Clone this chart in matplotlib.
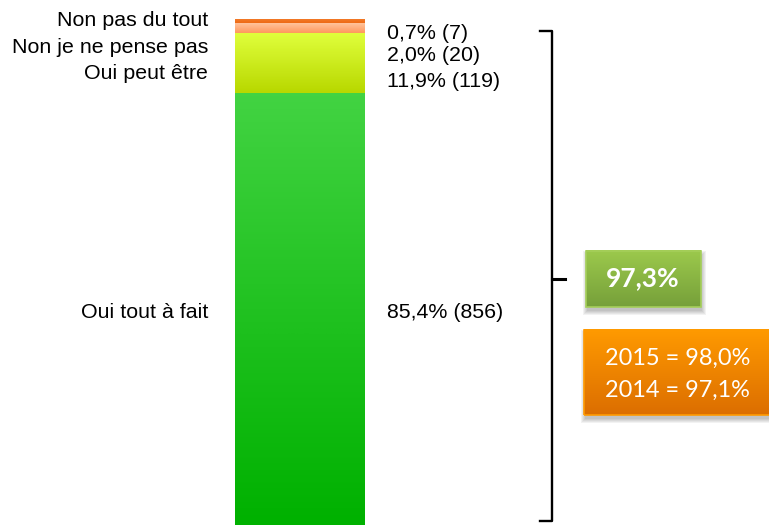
import matplotlib.pyplot as plt
import matplotlib.patches as mpatches
import matplotlib.colors as mcolors
import numpy as np

# données (du bas vers le haut de la barre)
categories = ["Oui tout à fait", "Oui peut être", "Non je ne pense pas", "Non pas du tout"]
percents = [85.4, 11.9, 2.0, 0.7]
counts = [856, 119, 20, 7]
total_oui = "97,3%"
history = ["2015 = 98,0%", "2014 = 97,1%"]

# dégradés (haut, bas) pour chaque segment
grad_colors = [
    ("#42d342", "#00b100"),
    ("#e0ff3c", "#b8d800"),
    ("#ffc8a2", "#ff985c"),
    ("#f27a28", "#ee6a14"),
]
# positions des étiquettes (décalées comme dans l'original)
label_y_left = [41.9, 89.3, 94.3, 99.6]
label_y_right = [41.9, 87.7, 92.7, 97.2]

plt.rcParams['font.family'] = ['Liberation Sans', 'DejaVu Sans']

fig = plt.figure(figsize=(7.69, 5.26), dpi=100)
ax = fig.add_axes([0, 0, 1, 1])
ax.axis("off")

px = 1 / 129.0   # un pixel en x
py = 1 / 5.06    # un pixel en y

bottoms = np.concatenate([[0], np.cumsum(percents)[:-1]])
bars = ax.bar(0, percents, bottom=bottoms, width=1.0, color="none", edgecolor="none")

# remplissage en dégradé de chaque segment
for patch, (top_c, bot_c) in zip(bars.patches, grad_colors):
    x0, y0 = patch.get_x(), patch.get_y()
    w, h = patch.get_width(), patch.get_height()
    cmap = mcolors.LinearSegmentedColormap.from_list("g", [bot_c, top_c])
    grad = np.linspace(0, 1, 64).reshape(-1, 1)
    im = ax.imshow(grad, cmap=cmap, extent=(x0, x0 + w, y0, y0 + h),
                   origin="lower", aspect="auto", interpolation="bicubic", zorder=2)
    im.set_clip_path(patch)

# étiquettes
for cat, pct, n, yl, yr in zip(categories, percents, counts, label_y_left, label_y_right):
    ax.text(-0.709, yl, cat, ha="right", va="center", fontsize=15.4, color="black")
    txt = f"{pct:.1f}".replace(".", ",") + f"% ({n})"
    ax.text(0.678, yr, txt, ha="left", va="center", fontsize=15.4, color="black")

# accolade sur les "Oui"
oui_top = percents[0] + percents[1]
bx, hook, tip = 1.957, 1.864, 2.058
top_y, bot_y = oui_top + 0.3, 0.8
mid_y = oui_top / 2
ax.plot([hook, bx, bx, hook], [top_y, top_y, bot_y, bot_y],
        color="black", lw=1.7, solid_joinstyle="round", zorder=3)
ax.plot([bx, tip], [mid_y, mid_y], color="black", lw=2.2, zorder=3)


def box(x0, y0, x1, y1, c_top, c_bot, edge):
    # ombre douce
    for k in range(5):
        ax.add_patch(mpatches.Rectangle((x0 + (1 - k) * px, y0 - (4 + k) * py),
                                        x1 - x0 + 2 * k * px, y1 - y0 + 2 * k * py,
                                        facecolor="#000000", alpha=0.05, edgecolor="none",
                                        zorder=3, clip_on=False))
    r = mpatches.Rectangle((x0, y0), x1 - x0, y1 - y0, facecolor="none",
                           edgecolor=edge, lw=1.2, zorder=5, clip_on=False)
    ax.add_patch(r)
    cmap = mcolors.LinearSegmentedColormap.from_list("b", [c_bot, c_top])
    grad = np.linspace(0, 1, 64).reshape(-1, 1)
    ax.imshow(grad, cmap=cmap, extent=(x0, x1, y0, y1), origin="lower",
              aspect="auto", interpolation="bicubic", zorder=4)


box(2.221, 43.08, 3.112, 54.15, "#9cc94c", "#76a03a", "#a5cf5a")
ax.text(2.663, 48.7, total_oui, ha="center", va="center", fontsize=19,
        fontweight="bold", color="white", family=["Lato", "DejaVu Sans"], zorder=6)

box(2.205, 21.7, 3.70, 38.5, "#ff9a00", "#dc6e00", "#ff9a00")
ax.text(2.368, 33.0, history[0], ha="left", va="center", fontsize=16.9,
        color="white", family=["Lato", "DejaVu Sans"], zorder=6)
ax.text(2.368, 26.7, history[1], ha="left", va="center", fontsize=16.9,
        color="white", family=["Lato", "DejaVu Sans"], zorder=6)

ax.set_xlim(-2.3217, 3.6395)
ax.set_ylim(-0.198, 103.75)
fig.savefig("out.png", dpi=100)
